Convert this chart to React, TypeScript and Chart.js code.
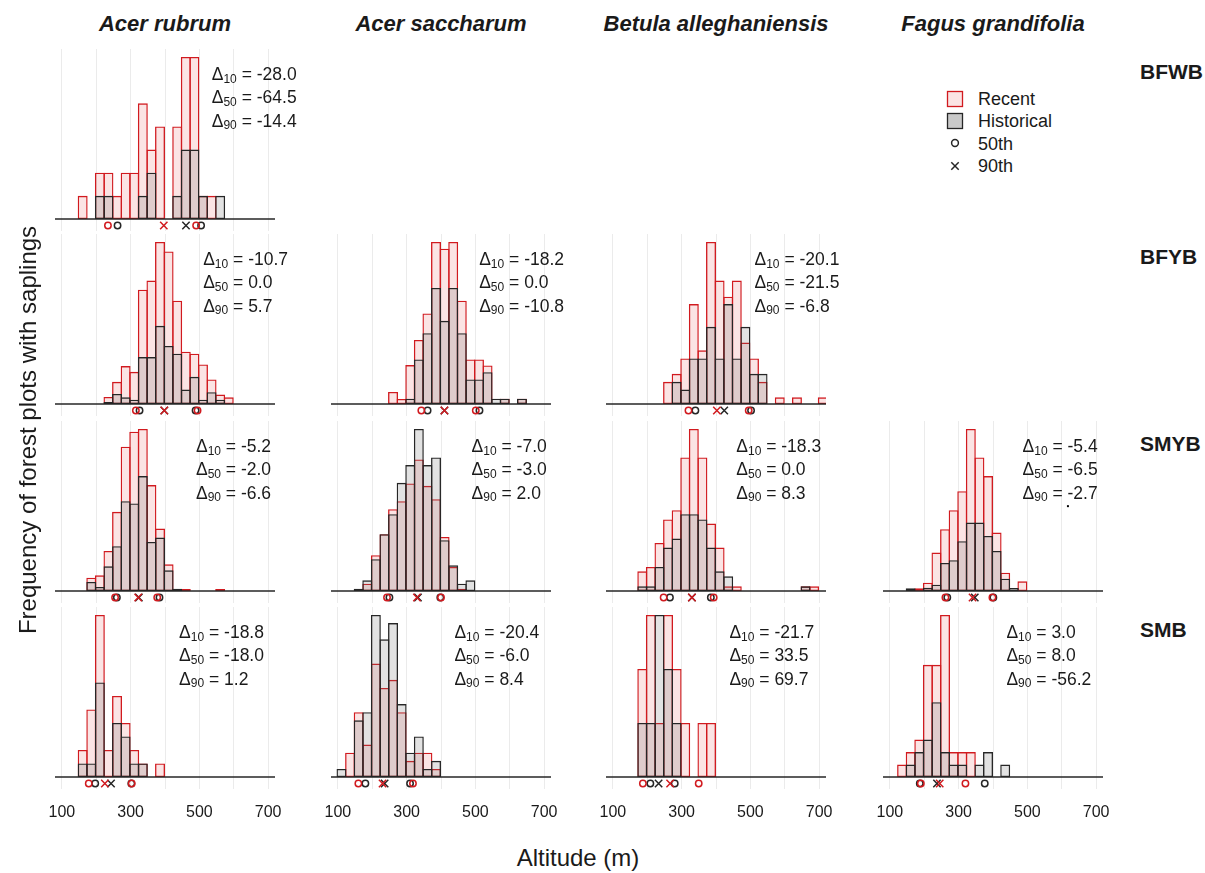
import React, { useEffect, useRef } from 'react';
import { Chart, registerables } from 'chart.js';

Chart.register(...registerables);

// ---------- categories & ticks ----------
const species = ['Acer rubrum', 'Acer saccharum', 'Betula alleghaniensis', 'Fagus grandifolia'];
const regions = ['BFWB', 'BFYB', 'SMYB', 'SMB'];
const xTickValues = [100, 200, 300, 400, 500, 600, 700];
const xTickLabels = ['100', '', '300', '', '500', '', '700'];
const deltaSubs = ['10', '50', '90'];
const legendLabels = ['Recent', 'Historical', '50th', '90th'];
const xTitle = 'Altitude (m)';
const yTitle = 'Frequency of forest plots with saplings';
const X_MIN = 80;
const X_MAX = 720;
const BIN_WIDTH = 25;

// ---------- data (bins of 25 m, first bin left edge given) ----------
// Acer rubrum - BFWB
const arBFWB_first = 148;
const arBFWB_recent = [1, 0, 2, 2, 1, 2, 2, 5, 3, 4, 0, 4, 7, 7, 1, 1, 0];
const arBFWB_hist = [0, 0, 1, 1, 0, 0, 0, 1, 2, 0, 0, 1, 3, 3, 1, 0, 1];
const arBFWB_recentQ = [234, 396.5, 490.6];
const arBFWB_histQ = [262, 461, 505];
const arBFWB_delta = [-28.0, -64.5, -14.4];

// Acer rubrum - BFYB
const arBFYB_first = 223;
const arBFYB_recent = [21, 66, 113, 96, 341, 368, 483, 455, 308, 156, 150, 118, 73, 28, 20];
const arBFYB_hist = [6, 30, 20, 13, 140, 140, 233, 173, 150, 43, 81, 13, 35, 13, 0];
const arBFYB_recentQ = [315.3, 398, 494.7];
const arBFYB_histQ = [326, 398, 489];
const arBFYB_delta = [-10.7, 0.0, 5.7];

// Acer saccharum - BFYB
const asBFYB_first = 248;
const asBFYB_recent = [36, 15, 116, 191, 270, 483, 463, 483, 308, 133, 133, 115, 0, 16, 0, 16];
const asBFYB_hist = [0, 0, 16, 133, 211, 346, 248, 346, 211, 73, 73, 95, 16, 16, 0, 16];
const asBFYB_recentQ = [342.8, 410, 501.2];
const asBFYB_histQ = [361, 410, 512];
const asBFYB_delta = [-18.2, 0.0, -10.8];

// Betula alleghaniensis - BFYB
const baBFYB_first = 248;
const baBFYB_recent = [66, 90, 136, 298, 160, 483, 368, 320, 368, 183, 136, 66, 0, 20, 0, 20, 0, 0, 20];
const baBFYB_hist = [0, 66, 43, 136, 136, 230, 136, 298, 136, 230, 90, 90, 0, 0, 0, 0, 0, 0, 0];
const baBFYB_recentQ = [319.9, 402.5, 495.2];
const baBFYB_histQ = [340, 424, 502];
const baBFYB_delta = [-20.1, -21.5, -6.8];

// Acer rubrum - SMYB
const arSMYB_first = 173;
const arSMYB_recent = [40, 47, 120, 237, 432, 477, 485, 317, 187, 80, 0, 6, 0, 0, 0, 6];
const arSMYB_hist = [27, 12, 74, 134, 269, 262, 344, 147, 160, 62, 7, 0, 0, 0, 0, 0];
const arSMYB_recentQ = [254.8, 322, 377.4];
const arSMYB_histQ = [260, 324, 384];
const arSMYB_delta = [-5.2, -2.0, -6.6];

// Acer saccharum - SMYB
const asSMYB_first = 148;
const asSMYB_recent = [0, 22, 107, 170, 245, 269, 322, 394, 315, 275, 162, 72, 7, 0];
const asSMYB_hist = [7, 32, 95, 170, 230, 324, 377, 485, 377, 400, 152, 77, 22, 32];
const asSMYB_recentQ = [243, 330, 400];
const asSMYB_histQ = [250, 333, 398];
const asSMYB_delta = [-7.0, -3.0, 2.0];

// Betula alleghaniensis - SMYB
const baSMYB_first = 173;
const baSMYB_recent = [59, 72, 144, 214, 242, 400, 485, 400, 202, 130, 14, 14, 0, 0, 0, 0, 0, 0, 0, 14, 14];
const baSMYB_hist = [14, 14, 72, 130, 157, 230, 230, 214, 130, 59, 44, 0, 0, 0, 0, 0, 0, 0, 0, 14, 0];
const baSMYB_recentQ = [247.7, 330, 393.3];
const baSMYB_histQ = [266, 330, 385];
const baSMYB_delta = [-18.3, 0.0, 8.3];

// Fagus grandifolia - SMYB
const fgSMYB_first = 148;
const fgSMYB_recent = [0, 8, 25, 115, 185, 242, 299, 485, 400, 344, 175, 55, 0, 29];
const fgSMYB_hist = [8, 0, 10, 19, 84, 92, 149, 205, 205, 165, 120, 37, 9, 0];
const fgSMYB_recentQ = [261.6, 340.5, 398.3];
const fgSMYB_histQ = [267, 347, 401];
const fgSMYB_delta = [-5.4, -6.5, -2.7];
const fgSMYB_stray = [{ x: 618, y: 254 }];

// Acer rubrum - SMB
const arSMB_first = 148;
const arSMB_recent = [2, 5, 12, 2, 6, 4, 2, 1, 0, 1];
const arSMB_hist = [1, 1, 7, 0, 4, 3, 1, 1, 0, 0];
const arSMB_recentQ = [178.2, 225, 303.2];
const arSMB_histQ = [197, 243, 302];
const arSMB_delta = [-18.8, -18.0, 1.2];

// Acer saccharum - SMB
const asSMB_first = 98;
const asSMB_recent = [0, 3, 8, 4, 14, 11, 12, 8, 2, 3, 3, 1];
const asSMB_hist = [1, 0, 7, 8, 20, 17, 19, 9, 3, 5, 1, 2];
const asSMB_recentQ = [159.6, 230, 318.4];
const asSMB_histQ = [180, 236, 310];
const asSMB_delta = [-20.4, -6.0, 8.4];

// Betula alleghaniensis - SMB
const baSMB_first = 173;
const baSMB_recent = [2, 3, 1, 3, 2, 1, 0, 1, 1];
const baSMB_hist = [1, 1, 3, 2, 1, 0, 0, 0, 0];
const baSMB_recentQ = [187.3, 266.5, 349.7];
const baSMB_histQ = [209, 233, 280];
const baSMB_delta = [-21.7, 33.5, 69.7];

// Fagus grandifolia - SMB
const fgSMB_first = 123;
const fgSMB_recent = [1, 2, 3, 9, 9, 13, 2, 2, 2, 0, 0, 0, 0];
const fgSMB_hist = [0, 1, 2, 3, 6, 2, 1, 1, 0, 1, 2, 0, 1];
const fgSMB_recentQ = [190, 245, 319.8];
const fgSMB_histQ = [187, 237, 376];
const fgSMB_delta = [3.0, 8.0, -56.2];

// annotation anchor (altitude where the delta text starts)
const labelAnchor = [536, 511, 511, 512, 490, 489, 459, 486, 441, 439, 439, 439];

// ---------- styles / layout ----------
const FONT = '"Liberation Sans", Arial, Helvetica, sans-serif';
const TEXT = '#1a1a1a';
const RED = '#d11a1f';
const DARK = '#262626';
const RECENT_FILL = 'rgba(220,20,20,0.115)';
const HIST_FILL = 'rgba(110,110,110,0.2)';
const GRID = '#ebebeb';

const COL_LEFT = [55, 331, 606, 883];
const BASELINE_Y = [219, 404, 591, 777];
const PANEL_W = 220;
const PAD_LEFT = 20;
const PAD_RIGHT = 45;
const ABOVE_PX = 170;
const BELOW_PX = 12;
const PEAK_PX = 162;
const MARK_PX = 6.5;
const AXIS_PX = 40;
const TEXT_LINE_OFFSETS = [-139, -115.7, -92.4];
const BAR_BORDER = 1.35;
const BIN_PX = (BIN_WIDTH * PANEL_W) / (X_MAX - X_MIN);
const BAR_PCT = (BIN_PX + BAR_BORDER) / BIN_PX;

type PanelDef = {
  row: number;
  col: number;
  first: number;
  recent: number[];
  hist: number[];
  recentQ: number[];
  histQ: number[];
  delta: number[];
  stray?: { x: number; y: number }[];
};

const panels: PanelDef[] = [
  { row: 0, col: 0, first: arBFWB_first, recent: arBFWB_recent, hist: arBFWB_hist, recentQ: arBFWB_recentQ, histQ: arBFWB_histQ, delta: arBFWB_delta },
  { row: 1, col: 0, first: arBFYB_first, recent: arBFYB_recent, hist: arBFYB_hist, recentQ: arBFYB_recentQ, histQ: arBFYB_histQ, delta: arBFYB_delta },
  { row: 1, col: 1, first: asBFYB_first, recent: asBFYB_recent, hist: asBFYB_hist, recentQ: asBFYB_recentQ, histQ: asBFYB_histQ, delta: asBFYB_delta },
  { row: 1, col: 2, first: baBFYB_first, recent: baBFYB_recent, hist: baBFYB_hist, recentQ: baBFYB_recentQ, histQ: baBFYB_histQ, delta: baBFYB_delta },
  { row: 2, col: 0, first: arSMYB_first, recent: arSMYB_recent, hist: arSMYB_hist, recentQ: arSMYB_recentQ, histQ: arSMYB_histQ, delta: arSMYB_delta },
  { row: 2, col: 1, first: asSMYB_first, recent: asSMYB_recent, hist: asSMYB_hist, recentQ: asSMYB_recentQ, histQ: asSMYB_histQ, delta: asSMYB_delta },
  { row: 2, col: 2, first: baSMYB_first, recent: baSMYB_recent, hist: baSMYB_hist, recentQ: baSMYB_recentQ, histQ: baSMYB_histQ, delta: baSMYB_delta },
  { row: 2, col: 3, first: fgSMYB_first, recent: fgSMYB_recent, hist: fgSMYB_hist, recentQ: fgSMYB_recentQ, histQ: fgSMYB_histQ, delta: fgSMYB_delta, stray: fgSMYB_stray },
  { row: 3, col: 0, first: arSMB_first, recent: arSMB_recent, hist: arSMB_hist, recentQ: arSMB_recentQ, histQ: arSMB_histQ, delta: arSMB_delta },
  { row: 3, col: 1, first: asSMB_first, recent: asSMB_recent, hist: asSMB_hist, recentQ: asSMB_recentQ, histQ: asSMB_histQ, delta: asSMB_delta },
  { row: 3, col: 2, first: baSMB_first, recent: baSMB_recent, hist: baSMB_hist, recentQ: baSMB_recentQ, histQ: baSMB_histQ, delta: baSMB_delta },
  { row: 3, col: 3, first: fgSMB_first, recent: fgSMB_recent, hist: fgSMB_hist, recentQ: fgSMB_recentQ, histQ: fgSMB_histQ, delta: fgSMB_delta },
];

const markerStyles = ['circle', 'crossRot', 'circle'];
const markerRadii = [3.2, 5.2, 3.2];

function toBars(first: number, arr: number[]) {
  return arr
    .map((v, i) => ({ x: first + BIN_WIDTH * (i + 0.5), y: v }))
    .filter((d) => d.y > 0);
}

function Panel({ p, index }: { p: PanelDef; index: number }) {
  const ref = useRef<HTMLCanvasElement>(null);
  const showTicks = p.row === 3;
  const height = ABOVE_PX + BELOW_PX + (showTicks ? AXIS_PX : 0);
  const width = PAD_LEFT + PANEL_W + PAD_RIGHT;

  useEffect(() => {
    if (!ref.current) return;
    const M = Math.max(...p.recent, ...p.hist);
    const unit = M / PEAK_PX;
    const yMax = unit * ABOVE_PX;
    const yMin = -unit * BELOW_PX;
    const markY = -unit * MARK_PX;
    const labelX = labelAnchor[index];

    const textPlugin = {
      id: 'deltaText' + index,
      afterDatasetsDraw(chart: any) {
        const { ctx } = chart;
        const xs = chart.scales.x;
        const ys = chart.scales.y;
        const x0 = xs.getPixelForValue(labelX);
        const y0 = ys.getPixelForValue(0);
        ctx.save();
        ctx.fillStyle = TEXT;
        ctx.textAlign = 'left';
        ctx.textBaseline = 'alphabetic';
        deltaSubs.forEach((sub, i) => {
          const by = y0 + TEXT_LINE_OFFSETS[i];
          let cx = x0;
          ctx.font = `17.5px ${FONT}`;
          ctx.fillText('\u0394', cx, by);
          cx += ctx.measureText('\u0394').width;
          ctx.font = `12px ${FONT}`;
          ctx.fillText(sub, cx, by + 2.5);
          cx += ctx.measureText(sub).width;
          ctx.font = `17.5px ${FONT}`;
          ctx.fillText(' = ' + p.delta[i].toFixed(1), cx, by);
        });
        ctx.restore();
      },
    };

    const markers = (q: number[]) => q.map((v) => ({ x: v, y: markY }));

    const datasets: any[] = [
      {
        type: 'bar',
        label: 'Recent',
        data: toBars(p.first, p.recent),
        backgroundColor: RECENT_FILL,
        borderColor: RED,
        borderWidth: BAR_BORDER,
        borderSkipped: false,
        inflateAmount: 0,
        grouped: false,
        barPercentage: BAR_PCT,
        categoryPercentage: 1,
        order: 5,
      },
      {
        type: 'bar',
        label: 'Historical',
        data: toBars(p.first, p.hist),
        backgroundColor: HIST_FILL,
        borderColor: DARK,
        borderWidth: BAR_BORDER,
        borderSkipped: false,
        inflateAmount: 0,
        grouped: false,
        barPercentage: BAR_PCT,
        categoryPercentage: 1,
        order: 4,
      },
      {
        type: 'line',
        label: 'baseline',
        data: [
          { x: X_MIN, y: 0 },
          { x: X_MAX, y: 0 },
        ],
        borderColor: DARK,
        borderWidth: 1.6,
        pointRadius: 0,
        order: 3,
      },
      {
        type: 'scatter',
        label: 'Historical percentiles',
        data: markers(p.histQ),
        pointStyle: markerStyles,
        pointRadius: markerRadii,
        borderColor: DARK,
        pointBorderColor: DARK,
        backgroundColor: 'rgba(0,0,0,0)',
        pointBackgroundColor: 'rgba(0,0,0,0)',
        borderWidth: 1.5,
        pointBorderWidth: 1.5,
        order: 2,
      },
      {
        type: 'scatter',
        label: 'Recent percentiles',
        data: markers(p.recentQ),
        pointStyle: markerStyles,
        pointRadius: markerRadii,
        borderColor: RED,
        pointBorderColor: RED,
        backgroundColor: 'rgba(0,0,0,0)',
        pointBackgroundColor: 'rgba(0,0,0,0)',
        borderWidth: 1.5,
        pointBorderWidth: 1.5,
        order: 1,
      },
    ];
    if (p.stray) {
      datasets.push({
        type: 'scatter',
        label: 'stray',
        data: p.stray,
        pointStyle: 'rect',
        pointRadius: 1.4,
        borderColor: '#000',
        backgroundColor: '#000',
        borderWidth: 0,
        order: 0,
      });
    }

    const chart = new Chart(ref.current, {
      type: 'bar',
      data: { datasets },
      options: {
        responsive: false,
        animation: false,
        events: [],
        layout: { autoPadding: false, padding: { left: PAD_LEFT, top: 0, bottom: 0, right: PAD_RIGHT } },
        plugins: { legend: { display: false }, tooltip: { enabled: false } },
        scales: {
          x: {
            type: 'linear',
            min: X_MIN,
            max: X_MAX,
            offset: false,
            grid: { color: GRID, lineWidth: 1, drawTicks: false, offset: false },
            border: { display: false },
            ticks: {
              display: showTicks,
              autoSkip: false,
              maxRotation: 0,
              padding: 14,
              color: TEXT,
              font: { family: FONT, size: 16 },
              callback: (_v: any, i: number) => xTickLabels[i],
            },
            afterBuildTicks: (axis: any) => {
              axis.ticks = xTickValues.map((v) => ({ value: v }));
            },
            afterFit: (axis: any) => {
              axis.height = showTicks ? AXIS_PX : 0;
              axis.paddingLeft = 0;
              axis.paddingRight = 0;
              axis.paddingTop = 0;
              axis.paddingBottom = 0;
            },
          },
          y: { type: 'linear', display: false, min: yMin, max: yMax },
        },
      } as any,
      plugins: [textPlugin],
    });
    return () => chart.destroy();
  }, []);

  return (
    <canvas
      ref={ref}
      width={width}
      height={height}
      style={{
        position: 'absolute',
        left: COL_LEFT[p.col] - PAD_LEFT,
        top: BASELINE_Y[p.row] - ABOVE_PX,
        width,
        height,
      }}
    />
  );
}

export default function App() {
  return (
    <div
      style={{
        position: 'absolute',
        left: 0,
        top: 0,
        width: 1205,
        height: 873,
        background: '#fff',
        fontFamily: FONT,
        color: TEXT,
        overflow: 'hidden',
      }}
    >
      {species.map((s, c) => (
        <div
          key={s}
          style={{
            position: 'absolute',
            left: COL_LEFT[c] + PANEL_W / 2 - 150,
            top: 11,
            width: 300,
            height: 26,
            lineHeight: '26px',
            textAlign: 'center',
            fontSize: 22,
            fontWeight: 'bold',
            fontStyle: 'italic',
          }}
        >
          {s}
        </div>
      ))}
      {regions.map((r, i) => (
        <div
          key={r}
          style={{
            position: 'absolute',
            left: 1140,
            top: BASELINE_Y[i] - 147 - 12,
            height: 24,
            lineHeight: '24px',
            fontSize: 21,
            fontWeight: 'bold',
          }}
        >
          {r}
        </div>
      ))}
      {panels.map((p, i) => (
        <Panel key={i} p={p} index={i} />
      ))}
      <svg style={{ position: 'absolute', left: 940, top: 85 }} width={30} height={95}>
        <rect x={7.5} y={6.5} width={15} height={15} fill={RECENT_FILL} stroke={RED} strokeWidth={1.3} />
        <rect x={7.5} y={28.5} width={15} height={15} fill="#c9c9c9" stroke={DARK} strokeWidth={1.3} />
        <circle cx={15} cy={58} r={3.4} fill="none" stroke={DARK} strokeWidth={1.5} />
        <line x1={11.3} y1={77.3} x2={18.7} y2={84.7} stroke={DARK} strokeWidth={1.5} />
        <line x1={11.3} y1={84.7} x2={18.7} y2={77.3} stroke={DARK} strokeWidth={1.5} />
      </svg>
      {legendLabels.map((l, i) => (
        <div
          key={l}
          style={{
            position: 'absolute',
            left: 978,
            top: 99 + i * 22.3 - 11,
            height: 22,
            lineHeight: '22px',
            fontSize: 18,
          }}
        >
          {l}
        </div>
      ))}
      <div
        style={{
          position: 'absolute',
          left: 28 - 250,
          top: 430 - 15,
          width: 500,
          height: 30,
          lineHeight: '30px',
          textAlign: 'center',
          fontSize: 24,
          transform: 'rotate(-90deg)',
        }}
      >
        {yTitle}
      </div>
      <div
        style={{
          position: 'absolute',
          left: 578 - 150,
          top: 858 - 15,
          width: 300,
          height: 30,
          lineHeight: '30px',
          textAlign: 'center',
          fontSize: 24,
        }}
      >
        {xTitle}
      </div>
    </div>
  );
}
